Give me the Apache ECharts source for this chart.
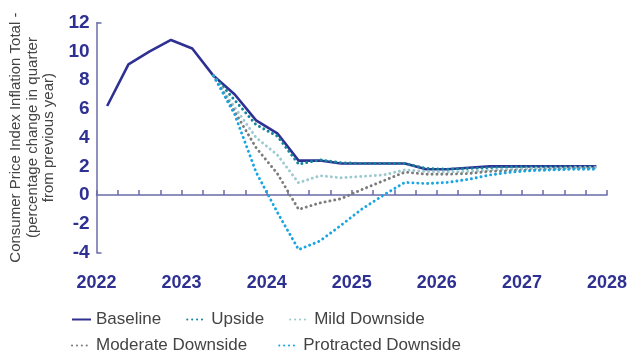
<!DOCTYPE html>
<html>
<head>
<meta charset="utf-8">
<script src="https://cdn.jsdelivr.net/npm/echarts@6/dist/echarts.min.js"></script>
<style>
  html, body { margin: 0; padding: 0; background: #fff; }
  #chart { width: 633px; height: 352px; }
</style>
</head>
<body>
<div id="chart"></div>
<script>
// quarterly points, first quarter of 2022 to last quarter of 2027
var firstYear = 2022;
var yearTicks = [2022, 2023, 2024, 2025, 2026, 2027, 2028];
var yTicks = [-4, -2, 0, 2, 4, 6, 8, 10, 12];

var baseline = [6.2, 9.1, 10.0, 10.8, 10.2, 8.3, 7.0, 5.2, 4.3, 2.4, 2.4, 2.2,
    2.2, 2.2, 2.2, 1.8, 1.8, 1.9, 2.0, 2.0, 2.0, 2.0, 2.0, 2.0];
var upside = [null, null, null, null, null, 8.3, 6.6, 4.9, 4.1, 2.15, 2.45, 2.25,
    2.2, 2.2, 2.2, 1.85, 1.8, 1.85, 1.9, 1.95, 1.95, 1.95, 1.95, 1.95];
var mildDownside = [null, null, null, null, null, 8.3, 6.1, 4.0, 2.8, 0.85, 1.35, 1.2,
    1.3, 1.4, 1.75, 1.65, 1.6, 1.65, 1.75, 1.8, 1.85, 1.85, 1.9, 1.9];
var moderateDownside = [null, null, null, null, null, 8.3, 5.8, 3.3, 1.5, -1.0, -0.55, -0.25,
    0.4, 1.0, 1.6, 1.45, 1.45, 1.5, 1.65, 1.7, 1.75, 1.8, 1.85, 1.85];
var protractedDownside = [null, null, null, null, null, 8.3, 5.6, 1.6, -1.2, -3.8, -3.2, -2.1,
    -0.95, 0.0, 0.88, 0.8, 0.88, 1.1, 1.4, 1.6, 1.7, 1.75, 1.8, 1.8];

var navy = '#2e3192';
var axisColor = '#6b6ba9';

// each quarter is drawn in the middle of its slot
function toPoints(values) {
    var out = [];
    values.forEach(function (v, i) {
        if (v !== null) out.push([firstYear + 0.125 + 0.25 * i, v]);
    });
    return out;
}

function dotted(name, color, values) {
    return {
        name: name,
        type: 'line',
        data: toPoints(values),
        symbol: 'none',
        lineStyle: { color: color, width: 2.9, type: [0.1, 4.8], cap: 'round' },
        itemStyle: { color: color }
    };
}

var legendText = { fontFamily: 'Liberation Sans', fontSize: 17, color: '#444' };

var myChart = echarts.init(document.getElementById('chart'));
myChart.setOption({
    animation: false,
    grid: { left: 94, right: 26, top: 22.7, bottom: 99.5 },
    legend: [{
        data: ['Baseline', 'Upside', 'Mild Downside'], left: 66, top: 306,
        itemWidth: 19, itemHeight: 10, itemGap: 25,
        itemStyle: { opacity: 0 }, textStyle: legendText
    }, {
        data: ['Moderate Downside', 'Protracted Downside'], left: 66, top: 332,
        itemWidth: 19, itemHeight: 10, itemGap: 31,
        itemStyle: { opacity: 0 }, textStyle: legendText
    }],
    xAxis: [{
        type: 'value', min: 2022, max: 2028, interval: 0.25,
        position: 'bottom',
        axisLine: { onZero: true, lineStyle: { color: axisColor, width: 1.5 } },
        axisTick: { show: true, inside: true, length: 5, lineStyle: { color: axisColor, width: 1.5 } },
        axisLabel: { show: false },
        splitLine: { show: false }
    }, {
        type: 'value', min: 2022, max: 2028,
        position: 'bottom',
        axisLine: { show: false, onZero: false },
        axisTick: { show: false },
        axisLabel: {
            customValues: yearTicks,
            margin: 22,
            fontFamily: 'Liberation Sans', fontSize: 18, fontWeight: 'bold', color: navy,
            formatter: function (v) { return String(v); }
        },
        splitLine: { show: false }
    }],
    yAxis: {
        type: 'value', min: -4, max: 12, interval: 2,
        name: 'Consumer Price Index Inflation Total -\n(percentage change in quarter\nfrom previous year)',
        nameLocation: 'middle', nameRotate: 90, nameGap: 33,
        nameTextStyle: { fontFamily: 'Liberation Sans', fontSize: 15, color: '#444', lineHeight: 16.5, align: 'center' },
        axisLine: { show: true, lineStyle: { color: axisColor, width: 1.5 } },
        axisTick: { show: true, inside: true, length: 5, customValues: [-4, 12], lineStyle: { color: axisColor, width: 1.5 } },
        axisLabel: {
            customValues: yTicks,
            margin: 7,
            fontFamily: 'Liberation Sans', fontSize: 19, fontWeight: 'bold', color: navy
        },
        splitLine: { show: false }
    },
    series: [{
        name: 'Baseline',
        type: 'line',
        data: toPoints(baseline),
        symbol: 'none',
        lineStyle: { color: navy, width: 2.6 },
        itemStyle: { color: navy }
    },
        dotted('Upside', '#15869a', upside),
        dotted('Mild Downside', '#9ccad0', mildDownside),
        dotted('Moderate Downside', '#7c7c7c', moderateDownside),
        dotted('Protracted Downside', '#19a4e2', protractedDownside)
    ]
});
</script>
</body>
</html>
